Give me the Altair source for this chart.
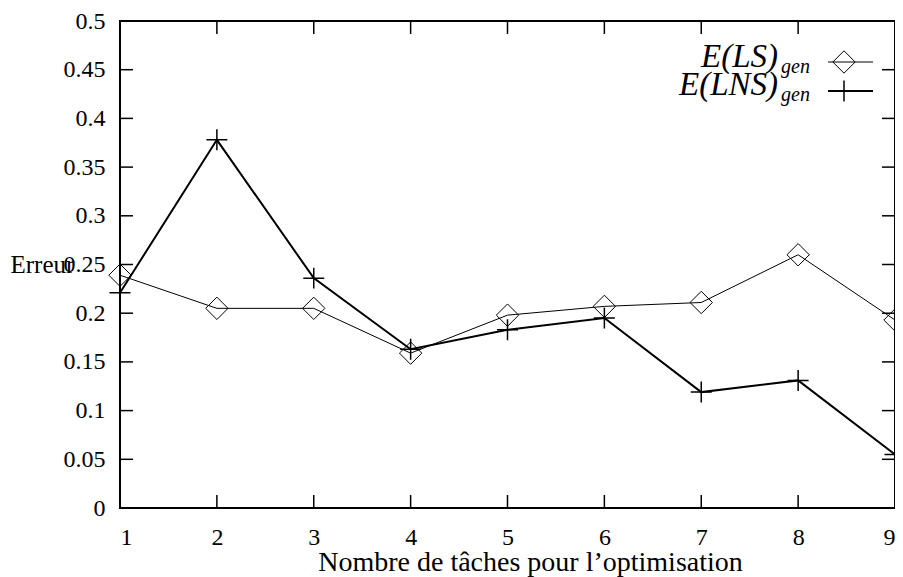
import altair as alt
import pandas as pd

# ---- data ----
tasks = [1, 2, 3, 4, 5, 6, 7, 8, 9]
err_ls = [0.239, 0.205, 0.205, 0.159, 0.198, 0.207, 0.211, 0.260, 0.193]
err_lns = [0.221, 0.378, 0.236, 0.163, 0.183, 0.195, 0.119, 0.131, 0.055]
x_ticks = [1, 2, 3, 4, 5, 6, 7, 8, 9]
y_ticks = [0, 0.05, 0.1, 0.15, 0.2, 0.25, 0.3, 0.35, 0.4, 0.45, 0.5]
legend_labels = ["E(LS)", "E(LNS)"]
legend_sub = "gen"
x_title = "Nombre de tâches pour l’optimisation"
y_title = "Erreur"

FONT = "Liberation Serif"
CROSS = "M-1,0L1,0M0,-1L0,1"

df_ls = pd.DataFrame({"x": tasks, "y": err_ls})
df_lns = pd.DataFrame({"x": tasks, "y": err_lns})
df_xt = pd.DataFrame({"x": x_ticks})
df_yt = pd.DataFrame({"y": y_ticks})

xscale = alt.Scale(domain=[1, 9], nice=False, zero=False)
yscale = alt.Scale(domain=[0, 0.5], nice=False)

axis_common = dict(
    labelFont=FONT, labelFontSize=24, labelColor="black", labelFontWeight="normal",
    ticks=False, domain=False, grid=False,
    titleFont=FONT, titleFontWeight="normal", titleColor="black",
)

X = alt.X("x:Q", scale=xscale, axis=alt.Axis(
    values=x_ticks, format="d", labelPadding=17,
    title=x_title, titleFontSize=28, titleX=410, titleY=62,
    titleBaseline="alphabetic", titleAlign="center", **axis_common))
Y = alt.Y("y:Q", scale=yscale, axis=alt.Axis(
    values=y_ticks, format=".2~f", labelPadding=15,
    title=y_title, titleFontSize=25, titleAngle=0, titleX=-110, titleY=251,
    titleAlign="left", titleBaseline="alphabetic", **axis_common))

line_ls = alt.Chart(df_ls).mark_line(color="black", strokeWidth=1).encode(x=X, y=Y)
pts_ls = alt.Chart(df_ls).mark_point(shape="diamond", size=500, filled=False,
                                     color="black", strokeWidth=1, opacity=1).encode(x=X, y=Y)
line_lns = alt.Chart(df_lns).mark_line(color="black", strokeWidth=2).encode(x=X, y=Y)
pts_lns = alt.Chart(df_lns).mark_point(shape=CROSS, size=440, filled=False,
                                       color="black", strokeWidth=1.5, opacity=1).encode(x=X, y=Y)

# inward ticks on all four sides
TK = 13
tick_style = dict(size=TK, thickness=1.5, color="black", opacity=1)
tb = alt.Chart(df_xt).mark_tick(orient="vertical", yOffset=-TK / 2, **tick_style).encode(
    x=X, y=alt.datum(0))
tt = alt.Chart(df_xt).mark_tick(orient="vertical", yOffset=TK / 2, **tick_style).encode(
    x=X, y=alt.datum(0.5))
tl = alt.Chart(df_yt).mark_tick(orient="horizontal", xOffset=TK / 2, **tick_style).encode(
    y=Y, x=alt.datum(1))
tr = alt.Chart(df_yt).mark_tick(orient="horizontal", xOffset=-TK / 2, **tick_style).encode(
    y=Y, x=alt.datum(9))

# legend (top-right, gnuplot style)
def legend_entry(label, base_y, sym_y, shape, size, sw, lw):
    d = pd.DataFrame({"t": [label], "s": [legend_sub]})
    main = alt.Chart(d).mark_text(font=FONT, fontSize=33, fontStyle="italic",
                                  align="right", baseline="alphabetic", color="black").encode(
        text="t:N", x=alt.value(658), y=alt.value(base_y))
    sub = alt.Chart(d).mark_text(font=FONT, fontSize=20, fontStyle="italic",
                                 align="left", baseline="alphabetic", color="black").encode(
        text="s:N", x=alt.value(661), y=alt.value(base_y + 6))
    seg = alt.Chart(d).mark_rule(color="black", strokeWidth=lw).encode(
        x=alt.value(708), x2=alt.value(753), y=alt.value(sym_y))
    sym = alt.Chart(d).mark_point(shape=shape, size=size, filled=False, color="black",
                                  strokeWidth=sw, opacity=1).encode(
        x=alt.value(724), y=alt.value(sym_y))
    return [main, sub, seg, sym]

leg = legend_entry(legend_labels[0], 46, 41, "diamond", 500, 1, 1) + \
      legend_entry(legend_labels[1], 74, 70, CROSS, 440, 1.5, 2)

chart = alt.layer(line_ls, line_lns, pts_ls, pts_lns, tb, tt, tl, tr, *leg).properties(
    width=775, height=487,
    autosize=alt.AutoSizeParams(type="none"),
    padding={"left": 112, "top": 13, "right": 0, "bottom": 80},
).configure(
    background="white", font=FONT
).configure_view(
    stroke="black", strokeWidth=2
)

chart.save("out.html", embed_options={"renderer": "svg", "actions": False})
